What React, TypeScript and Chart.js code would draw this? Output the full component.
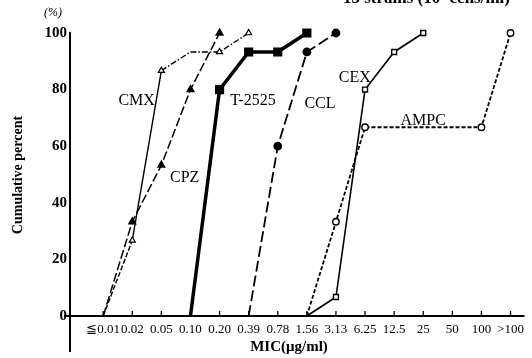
import React, { useEffect, useRef } from "react";
import { Chart, registerables } from "chart.js";
Chart.register(...registerables);

const categories = ["≦0.01", "0.02", "0.05", "0.10", "0.20", "0.39", "0.78", "1.56", "3.13", "6.25", "12.5", "25", "50", "100", ">100"];
const yTicks = [0, 20, 40, 60, 80, 100];
const N = null;
const cmx = [0, 26.7, 86.7, 93.3, 93.3, 100, N, N, N, N, N, N, N, N, N];
const cpz = [0, 33.3, 53.3, 80, 100, N, N, N, N, N, N, N, N, N, N];
const t2525 = [N, N, N, 0, 80, 93.3, 93.3, 100, N, N, N, N, N, N, N];
const ccl = [N, N, N, N, N, 0, 60, 93.3, 100, N, N, N, N, N, N];
const cex = [N, N, N, N, N, N, N, 0, 6.7, 80, 93.3, 100, N, N, N];
const ampc = [N, N, N, N, N, N, N, 0, 33.3, 66.7, N, N, N, 66.7, 100];
const cmxNoMarker = [3];
const ampcNoMarker = [13];

const FONT = "'Liberation Serif', 'DejaVu Serif', serif";

function pts(arr: (number | null)[]) {
  const out: { x: number; y: number }[] = [];
  arr.forEach((v, i) => {
    if (v !== null) out.push({ x: i, y: v });
  });
  return out;
}

const seriesLabels = [
  { text: "CMX", x: 1.15, y: 76 },
  { text: "CPZ", x: 2.8, y: 49 },
  { text: "T-2525", x: 5.15, y: 76 },
  { text: "CCL", x: 7.45, y: 75 },
  { text: "CEX", x: 8.65, y: 84 },
  { text: "AMPC", x: 11.0, y: 69 },
];

const decor = {
  id: "decor",
  afterDraw(chart: any) {
    const { ctx, chartArea, scales } = chart;
    const xs = scales.x;
    const ys = scales.y;
    ctx.save();
    ctx.strokeStyle = "#000";
    ctx.fillStyle = "#000";
    ctx.lineWidth = 2;
    ctx.beginPath();
    ctx.moveTo(chartArea.left, chartArea.top - 1);
    ctx.lineTo(chartArea.left, 352);
    ctx.stroke();
    ctx.beginPath();
    ctx.moveTo(64, chartArea.bottom);
    ctx.lineTo(chartArea.right, chartArea.bottom);
    ctx.stroke();
    ctx.lineWidth = 1.3;
    categories.forEach((_, i) => {
      const px = xs.getPixelForValue(i);
      ctx.beginPath();
      ctx.moveTo(px, chartArea.bottom);
      ctx.lineTo(px, chartArea.bottom - 5);
      ctx.stroke();
    });
    ctx.font = `italic 12px ${FONT}`;
    ctx.textAlign = "center";
    ctx.textBaseline = "middle";
    ctx.fillText("(%)", 53, 13);
    ctx.save();
    ctx.translate(18, 175);
    ctx.rotate(-Math.PI / 2);
    ctx.font = `bold 14px ${FONT}`;
    ctx.fillText("Cumulative percent", 0, 0);
    ctx.restore();
    ctx.font = `bold 15px ${FONT}`;
    ctx.fillText("MIC(μg/ml)", 289, 347);
    ctx.font = `16px ${FONT}`;
    seriesLabels.forEach((l) => {
      ctx.fillText(l.text, xs.getPixelForValue(l.x), ys.getPixelForValue(l.y));
    });
    ctx.font = `bold 17px ${FONT}`;
    ctx.textAlign = "right";
    ctx.textBaseline = "alphabetic";
    ctx.fillText("15 strains (10⁶ cells/ml)", 510, 3);
    ctx.restore();
  },
};

export default function App() {
  const ref = useRef<HTMLCanvasElement>(null);
  useEffect(() => {
    if (!ref.current) return;
    Chart.defaults.font.family = FONT;
    Chart.defaults.color = "#000";
    const radius = (r: number, skip: number[] = []) => (c: any) =>
      !c.raw || c.raw.y === 0 || skip.includes(c.raw.x) ? 0 : r;
    const ds = (label: string, arr: (number | null)[], o: any) => ({
      label,
      data: pts(arr),
      borderColor: "#000",
      pointBorderColor: "#000",
      fill: false,
      tension: 0,
      clip: false,
      ...o,
    });
    const chart = new Chart(ref.current, {
      type: "line",
      data: {
        datasets: [
          ds("CMX", cmx, {
            borderWidth: 1.4,
            pointStyle: "triangle",
            pointRadius: radius(3.5, cmxNoMarker),
            pointBackgroundColor: "#fff",
            pointBorderWidth: 1.2,
            segment: {
              borderDash: (c: any) => (c.p0DataIndex === 0 ? [5, 2] : c.p0DataIndex === 1 ? [] : [6, 2, 1.5, 2]),
            },
          }),
          ds("CPZ", cpz, {
            borderWidth: 1.5,
            borderDash: [9, 3],
            pointStyle: "triangle",
            pointRadius: radius(3.8),
            pointBackgroundColor: "#000",
          }),
          ds("T-2525", t2525, {
            borderWidth: 3.5,
            pointStyle: "rect",
            pointRadius: radius(4),
            pointBackgroundColor: "#000",
          }),
          ds("CCL", ccl, {
            borderWidth: 1.8,
            borderDash: [11, 4],
            pointStyle: "circle",
            pointRadius: radius(3.5),
            pointBackgroundColor: "#000",
          }),
          ds("CEX", cex, {
            borderWidth: 1.6,
            pointStyle: "rect",
            pointRadius: radius(3.5),
            pointBackgroundColor: "#fff",
            pointBorderWidth: 1.4,
          }),
          ds("AMPC", ampc, {
            borderWidth: 1.8,
            borderDash: [4, 2],
            pointStyle: "circle",
            pointRadius: radius(3.2),
            pointBackgroundColor: "#fff",
            pointBorderWidth: 1.4,
          }),
        ],
      },
      options: {
        animation: false,
        responsive: false,
        devicePixelRatio: 1,
        layout: { padding: { top: 33, right: 5, left: 0, bottom: 0 } },
        plugins: { legend: { display: false }, tooltip: { enabled: false }, title: { display: false } },
        scales: {
          x: {
            type: "linear",
            min: -1.14,
            max: 14.48,
            grid: { display: false, drawTicks: false },
            border: { display: false },
            afterBuildTicks: (s: any) => {
              s.ticks = categories.map((_, i) => ({ value: i }));
            },
            afterFit: (s: any) => {
              s.height = 42;
            },
            ticks: {
              autoSkip: false,
              maxRotation: 0,
              padding: 6,
              font: { size: 13 },
              callback: (v: any) => categories[v],
            },
          },
          y: {
            min: 0,
            max: 100,
            grid: { display: false, drawTicks: false },
            border: { display: false },
            afterBuildTicks: (s: any) => {
              s.ticks = yTicks.map((v) => ({ value: v }));
            },
            afterFit: (s: any) => {
              s.width = 70;
            },
            ticks: { padding: 3, font: { size: 15, weight: "bold" } },
          },
        },
      },
      plugins: [decor],
    });
    return () => chart.destroy();
  }, []);
  return (
    <div style={{ position: "fixed", left: 0, top: 0, width: 532, height: 358, background: "#fff" }}>
      <canvas ref={ref} width={532} height={358} style={{ display: "block" }} />
    </div>
  );
}
